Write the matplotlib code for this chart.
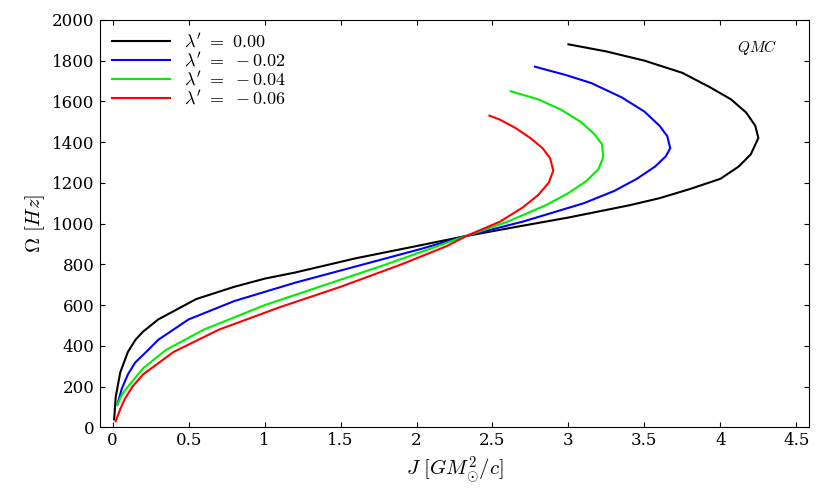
import numpy as np
import matplotlib.pyplot as plt

plt.rcParams['mathtext.fontset'] = 'cm'
plt.rcParams['font.family'] = 'serif'
plt.rcParams['font.serif'] = ['DejaVu Serif']

# J, Omega pairs
j_000 = [0.01, 0.02, 0.05, 0.1, 0.15, 0.2, 0.3, 0.45, 0.55, 0.8, 1.0, 1.2, 1.6, 2.0, 2.33, 2.7, 3.0, 3.4,
         3.6, 3.8, 4.0, 4.12, 4.2, 4.25, 4.23, 4.17, 4.07, 3.93, 3.75, 3.5, 3.25, 3.0]
w_000 = [40, 150, 270, 370, 430, 470, 530, 590, 630, 690, 730, 760, 830, 890, 940, 990, 1030, 1090,
         1125, 1170, 1220, 1280, 1340, 1420, 1480, 1545, 1610, 1670, 1740, 1800, 1845, 1880]
j_002 = [0.03, 0.06, 0.1, 0.15, 0.22, 0.3, 0.5, 0.8, 1.2, 1.6, 2.0, 2.33, 2.7, 3.1, 3.3, 3.45, 3.57,
         3.64, 3.67, 3.65, 3.6, 3.5, 3.35, 3.15, 2.98, 2.78]
w_002 = [110, 190, 260, 320, 370, 430, 530, 620, 710, 790, 870, 940, 1010, 1100, 1160, 1220, 1280,
         1330, 1370, 1430, 1480, 1550, 1620, 1690, 1730, 1770]
j_004 = [0.03, 0.06, 0.1, 0.2, 0.35, 0.6, 1.0, 1.4, 1.8, 2.1, 2.33, 2.6, 2.85, 3.0, 3.12, 3.2, 3.23,
         3.22, 3.17, 3.08, 2.95, 2.8, 2.62]
w_004 = [110, 160, 200, 290, 380, 480, 600, 700, 800, 880, 940, 1010, 1090, 1150, 1210, 1270, 1330,
         1390, 1440, 1500, 1560, 1610, 1650]
j_006 = [0.02, 0.05, 0.08, 0.13, 0.2, 0.4, 0.7, 1.1, 1.5, 1.9, 2.2, 2.33, 2.55, 2.7, 2.8, 2.87, 2.9,
         2.88, 2.83, 2.75, 2.65, 2.55, 2.48]
w_006 = [30, 90, 140, 200, 260, 370, 480, 590, 690, 800, 890, 940, 1010, 1080, 1140, 1200, 1260,
         1320, 1370, 1420, 1470, 1510, 1530]

series = [
    (j_000, w_000, "black", r"$\lambda'\ =\ 0.00$"),
    (j_002, w_002, "blue", r"$\lambda'\ =\ -0.02$"),
    (j_004, w_004, "#00ee00", r"$\lambda'\ =\ -0.04$"),
    (j_006, w_006, "red", r"$\lambda'\ =\ -0.06$"),
]

fig, ax = plt.subplots(figsize=(8.3, 4.97), dpi=100)
fig.subplots_adjust(left=0.12, right=0.975, bottom=0.14, top=0.96)

for j, w, col, lab in series:
    ax.plot(j, w, color=col, lw=1.5, label=lab)

ax.set_xlim(-0.086, 4.585)
ax.set_ylim(0, 2000)
ax.set_xticks(np.arange(0, 4.51, 0.5))
ax.set_xticklabels(["0", "0.5", "1", "1.5", "2", "2.5", "3", "3.5", "4", "4.5"])
ax.set_yticks(np.arange(0, 2001, 200))
ax.tick_params(direction="in", top=True, right=True, labelsize=12)

ax.set_xlabel(r"$J\ [GM_{\odot}^2/c]$", fontsize=15)
ax.set_ylabel(r"$\Omega\ [Hz]$", fontsize=15)
ax.text(0.955, 0.955, r"$QMC$", transform=ax.transAxes, ha="right", va="top", fontsize=11)

ax.legend(loc="upper left", frameon=False, fontsize=13, handlelength=3.2,
          labelspacing=0.05, borderaxespad=0.3)

fig.savefig("out.png")
